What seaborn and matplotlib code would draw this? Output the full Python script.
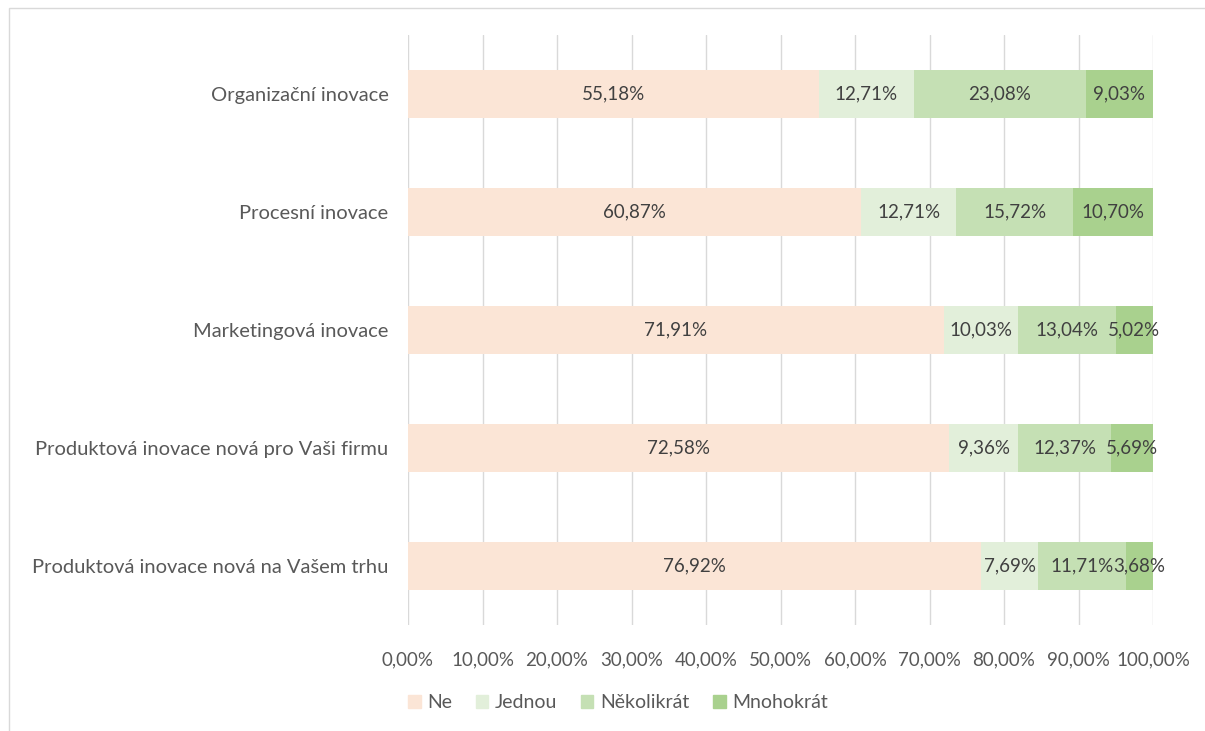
import matplotlib
matplotlib.use("Agg")
import matplotlib.pyplot as plt
import matplotlib.patches as mpatches
import seaborn as sns
import pandas as pd
import numpy as np

categories = [
    "Organizační inovace",
    "Procesní inovace",
    "Marketingová inovace",
    "Produktová inovace nová pro Vaši firmu",
    "Produktová inovace nová na Vašem trhu",
]
series_names = ["Ne", "Jednou", "Několikrát", "Mnohokrát"]
ne = [55.18, 60.87, 71.91, 72.58, 76.92]
jednou = [12.71, 12.71, 10.03, 9.36, 7.69]
nekolikrat = [23.08, 15.72, 13.04, 12.37, 11.71]
mnohokrat = [9.03, 10.70, 5.02, 5.69, 3.68]
x_ticks = [0, 10, 20, 30, 40, 50, 60, 70, 80, 90, 100]

colors = ["#FBE5D6", "#E2EFDA", "#C5E0B4", "#A9D18E"]

sns.set_theme(style="white")
plt.rcParams["font.family"] = ["Lato", "DejaVu Sans"]

df = pd.DataFrame({"cat": categories, "Ne": ne, "Jednou": jednou,
                   "Několikrát": nekolikrat, "Mnohokrát": mnohokrat})
vals = df[series_names].to_numpy()
cum = np.cumsum(vals, axis=1)

fig = plt.figure(figsize=(12.05, 7.31), dpi=100)
ax = fig.add_axes([408/1205, 1-625/731, (1153-408)/1205, (625-35)/731])

# draw from the longest cumulative to the shortest so each segment shows
for i in range(len(series_names) - 1, -1, -1):
    d = pd.DataFrame({"cat": categories, "v": cum[:, i]})
    sns.barplot(data=d, y="cat", x="v", color=colors[i], orient="h",
                width=0.4, ax=ax, saturation=1, zorder=3, linewidth=0)

# value labels
for r in range(len(categories)):
    for i in range(len(series_names)):
        start = cum[r, i] - vals[r, i]
        center = start + vals[r, i] / 2
        ax.text(center, r, f"{vals[r, i]:.2f}%".replace(".", ","),
                ha="center", va="center", fontsize=13.5, color="#404040", zorder=5)

ax.set_xlim(0, 100)
ax.set_ylim(len(categories) - 0.5, -0.5)
ax.set_xticks(x_ticks)
ax.set_xticklabels([f"{t:.2f}%".replace(".", ",") for t in x_ticks])
ax.set_xlabel("")
ax.set_ylabel("")
ax.grid(axis="x", color="#D9D9D9", linewidth=1, zorder=0)
ax.set_axisbelow(True)
for s in ax.spines.values():
    s.set_visible(False)
ax.tick_params(axis="x", length=0, pad=19, labelsize=13.5, labelcolor="#595959")
ax.tick_params(axis="y", length=0, pad=14, labelsize=14.5, labelcolor="#595959")

handles = [mpatches.Patch(color=c, label=n) for c, n in zip(colors, series_names)]
leg = fig.legend(handles=handles, loc="center", ncol=4,
                 bbox_to_anchor=(618/1205, 1-703/731), frameon=False,
                 fontsize=14, handlelength=0.65, handleheight=0.65,
                 handletextpad=0.35, columnspacing=1.2)
for t in leg.get_texts():
    t.set_color("#595959")

# chart frame
fig.patches.append(mpatches.Rectangle((9/1205, -0.05), 1.2, 1 - 8/731 + 0.05,
                                      transform=fig.transFigure, fill=False,
                                      edgecolor="#D9D9D9", linewidth=1))

fig.savefig("out.png", dpi=100)
